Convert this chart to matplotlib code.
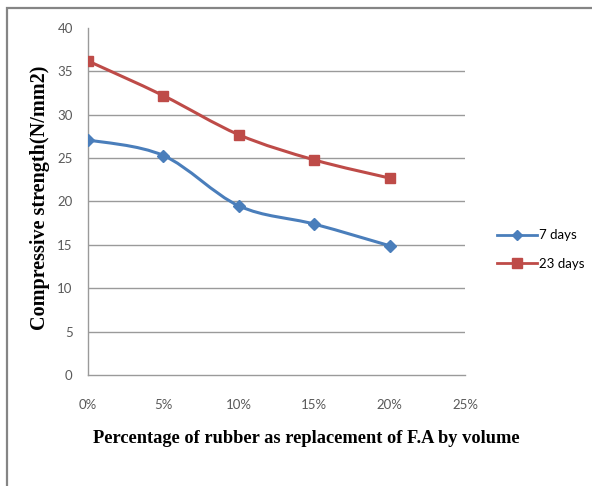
import matplotlib
matplotlib.use("Agg")
import matplotlib.pyplot as plt
import numpy as np
from matplotlib.path import Path
from matplotlib.patches import PathPatch, Rectangle
from matplotlib.lines import Line2D

# Rubber replacement levels (%) and compressive strength (N/mm2)
replacement = [0, 5, 10, 15, 20]
strength_7d = [27.1, 25.3, 19.5, 17.4, 14.9]
strength_23d = [36.2, 32.2, 27.7, 24.8, 22.7]
series_names = ["7 days", "23 days"]
x_ticks = [0, 5, 10, 15, 20, 25]
y_ticks = [0, 5, 10, 15, 20, 25, 30, 35, 40]

blue = "#4A7EBB"
red = "#BE4B48"
grid_c = "#9a9a9a"
tick_c = "#595959"

W, H = 592, 486
fig = plt.figure(figsize=(W / 100, H / 100), dpi=100)

def fx(px):
    return px / W

def fy(py):
    return 1 - py / H

# Outer chart frame
fig.add_artist(Rectangle((fx(7), fy(540)), 1.2, fy(8) - fy(540), transform=fig.transFigure,
                         fill=False, edgecolor="#858585", linewidth=1.6))

ax = fig.add_axes([fx(88), fy(375), fx(465) - fx(88), fy(28) - fy(375)])
ax.set_xlim(0, 25)
ax.set_ylim(0, 40)
for s in ["top", "right"]:
    ax.spines[s].set_visible(False)
for s in ["left", "bottom"]:
    ax.spines[s].set_color(grid_c)
    ax.spines[s].set_linewidth(1.0)
ax.set_yticks(y_ticks)
ax.set_xticks(x_ticks)
ax.set_xticklabels([f"{v}%" for v in x_ticks])
ax.tick_params(axis="both", length=0, colors=tick_c)
ax.tick_params(axis="x", pad=17)
ax.tick_params(axis="y", pad=11)
for t in ax.get_xticklabels() + ax.get_yticklabels():
    t.set_family("Lato")
    t.set_fontsize(9.5)
for v in y_ticks[1:-1]:
    ax.axhline(v, color=grid_c, linewidth=1.0, zorder=1)


def smooth_path(xs, ys):
    """Catmull-Rom style Bezier path through the points (Excel-like smoothing)."""
    pts = np.column_stack([xs, ys]).astype(float)
    n = len(pts)
    verts = [pts[0]]
    codes = [Path.MOVETO]
    for i in range(n - 1):
        p0 = pts[i - 1] if i > 0 else pts[i]
        p1 = pts[i]
        p2 = pts[i + 1]
        p3 = pts[i + 2] if i + 2 < n else pts[i + 1]
        c1 = p1 + (p2 - p0) / 6.0
        c2 = p2 - (p3 - p1) / 6.0
        verts += [c1, c2, p2]
        codes += [Path.CURVE4] * 3
    return Path(verts, codes)


for ys, col, mk, ms in [(strength_7d, blue, "D", 6), (strength_23d, red, "s", 7.5)]:
    ax.add_patch(PathPatch(smooth_path(replacement, ys), facecolor="none", edgecolor=col,
                           linewidth=2.2, zorder=3))
    ax.plot(replacement, ys, linestyle="none", marker=mk, markersize=ms, color=col, zorder=4)

fig.text(fx(40), fy(198), "Compressive strength(N/mm2)", family="Liberation Serif",
         fontweight="bold", fontsize=14.5, rotation=90, ha="center", va="center")
fig.text(fx(306), fy(438), "Percentage of rubber as replacement of F.A by volume",
         family="Liberation Serif", fontweight="bold", fontsize=13.2, ha="center", va="center")

handles = [Line2D([], [], color=blue, marker="D", markersize=5, linewidth=2),
           Line2D([], [], color=red, marker="s", markersize=7, linewidth=2)]
fig.legend(handles, series_names, loc="upper left", bbox_to_anchor=(fx(492), fy(224)),
           frameon=False, handlelength=3.0, handletextpad=0.2, labelspacing=1.25,
           borderaxespad=0.0, prop={"family": "Lato", "size": 9.5})

fig.savefig("out.png", dpi=100)
